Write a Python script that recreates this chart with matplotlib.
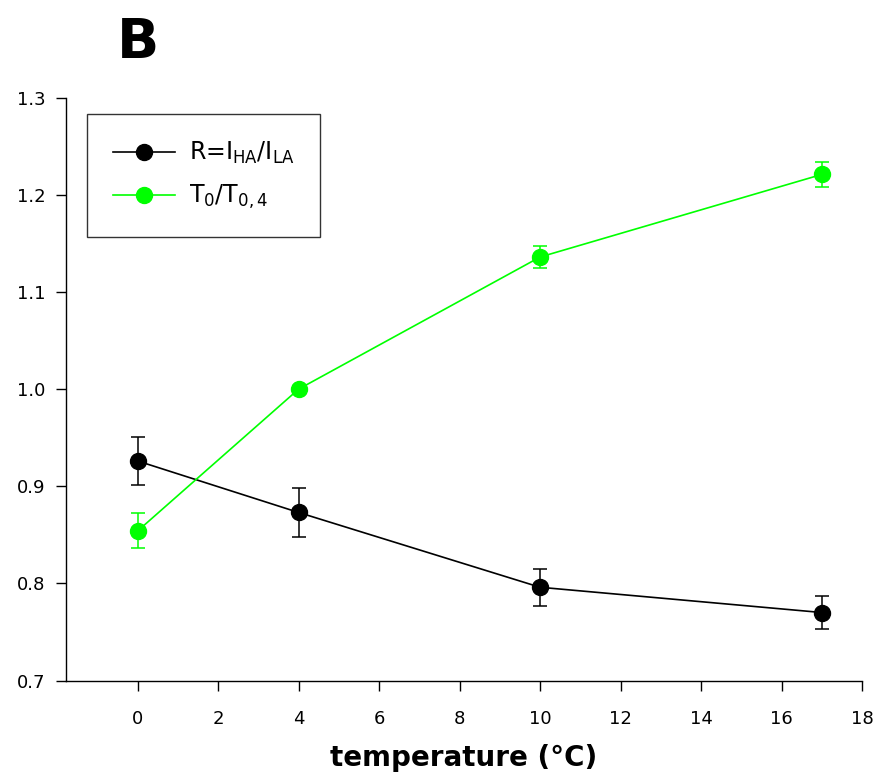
import numpy as np
import matplotlib
matplotlib.use('Agg')
import matplotlib.pyplot as plt
from matplotlib.lines import Line2D

# data
temp = [0, 4, 10, 17]
ratio_R = [0.926, 0.873, 0.796, 0.770]
ratio_R_err = [0.025, 0.025, 0.019, 0.017]
ratio_T = [0.854, 1.000, 1.136, 1.221]
ratio_T_err = [0.018, 0.0, 0.011, 0.013]

x_ticks = [0, 2, 4, 6, 8, 10, 12, 14, 16, 18]
y_ticks = [0.7, 0.8, 0.9, 1.0, 1.1, 1.2, 1.3]

label_R = r'R=I$_\mathregular{HA}$/I$_\mathregular{LA}$'
label_T = r'T$_\mathregular{0}$/T$_\mathregular{0,4}$'

plt.rcParams['font.family'] = ['DejaVu Sans']
plt.rcParams['mathtext.fontset'] = 'dejavusans'

fig = plt.figure(figsize=(8.78, 7.78), dpi=100)
ax = fig.add_axes([0.0752, 0.1253, 0.9066, 0.7491])

ax.errorbar(temp, ratio_R, yerr=ratio_R_err, color='black', marker='o',
            markersize=11.5, linewidth=1.2, elinewidth=1.1, capsize=5, capthick=1.1,
            zorder=3)
ax.errorbar(temp, ratio_T, yerr=ratio_T_err, color='#00ff00', marker='o',
            markersize=11.5, linewidth=1.2, elinewidth=1.1, capsize=5, capthick=1.1,
            zorder=3)

ax.set_xlim(-1.78, 18)
ax.set_ylim(0.7, 1.3)
ax.set_xticks(x_ticks)
ax.set_yticks(y_ticks)
ax.set_yticklabels(['%.1f' % v for v in y_ticks])

ax.spines['top'].set_visible(False)
ax.spines['right'].set_visible(False)
ax.spines['left'].set_linewidth(1.0)
ax.spines['bottom'].set_linewidth(1.0)
ax.tick_params(direction='out', length=7, width=1.0, labelsize=13, pad=14)
ax.tick_params(axis='y', pad=8)

ax.set_xlabel('temperature (°C)', fontsize=20, fontweight='bold', labelpad=12)

# legend handles without the error caps
handles = [Line2D([], [], color='black', marker='o', markersize=11.5, linewidth=1.2),
           Line2D([], [], color='#00ff00', marker='o', markersize=11.5, linewidth=1.2)]
leg = ax.legend(handles, [label_R, label_T], loc='upper left',
                bbox_to_anchor=(0.012, 0.992), fontsize=17,
                frameon=True, fancybox=False, edgecolor='black',
                handlelength=2.6, handletextpad=0.6, borderpad=1.1, labelspacing=0.7)
leg.get_frame().set_linewidth(1.0)

fig.text(0.157, 0.945, 'B', fontsize=40, fontweight='bold', ha='center', va='center')

fig.savefig('out.png', dpi=100)
